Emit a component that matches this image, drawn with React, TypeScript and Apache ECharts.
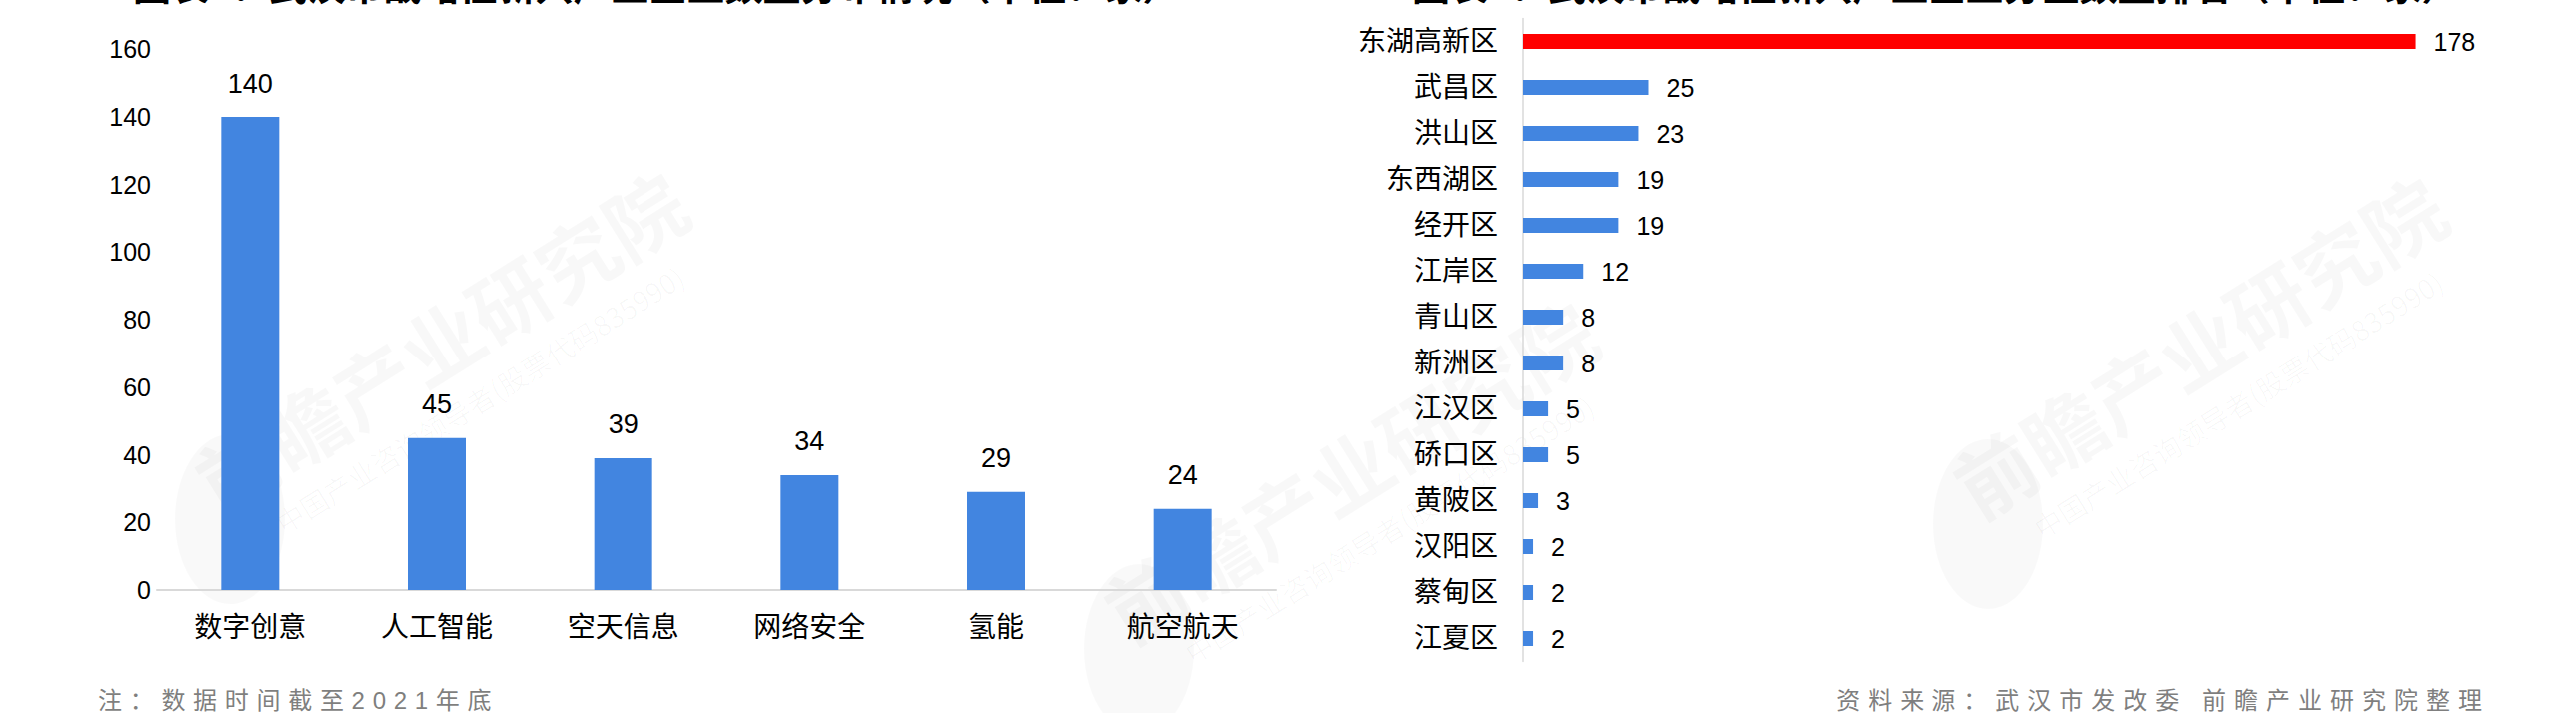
import React, { useEffect, useRef } from "react";
import * as echarts from "echarts";

const industries = ["数字创意", "人工智能", "空天信息", "网络安全", "氢能", "航空航天"];
const industryValues = [140, 45, 39, 34, 29, 24];

const districts = ["东湖高新区", "武昌区", "洪山区", "东西湖区", "经开区", "江岸区", "青山区", "新洲区", "江汉区", "硚口区", "黄陂区", "汉阳区", "蔡甸区", "江夏区"];
const districtValues = [178, 25, 23, 19, 19, 12, 8, 8, 5, 5, 3, 2, 2, 2];

const leftTitle = "图表1：武汉市战略性新兴产业企业数量分布情况（单位：家）";
const rightTitle = "图表2：武汉市战略性新兴产业企业分区数量排名（单位：家）";
const noteText = "注：数据时间截至2021年底";
const sourceText = "资料来源：武汉市发改委 前瞻产业研究院整理";

const FONT = "'Liberation Sans Narrow','Arial Narrow','Liberation Sans','Noto Sans CJK SC',sans-serif";
const BLUE = "#4285E0";
const RED = "#FF0000";

export default function App() {
  const ref = useRef<HTMLDivElement>(null);
  useEffect(() => {
    const chart = echarts.init(ref.current!, null, { renderer: "svg" });
    const wm = (x: number, y: number) => [
      {
        type: "text",
        x,
        y,
        rotation: (32 * Math.PI) / 180,
        silent: true,
        style: {
          text: "前瞻产业研究院",
          font: "bold 80px 'Noto Sans CJK SC'",
          fill: "rgba(0,0,0,0.028)",
          align: "center",
          verticalAlign: "middle",
        },
      },
      {
        type: "text",
        x: x + 40,
        y: y + 60,
        rotation: (32 * Math.PI) / 180,
        silent: true,
        style: {
          text: "中国产业咨询领导者(股票代码835990)",
          font: "28px 'Noto Sans CJK SC'",
          fill: "rgba(0,0,0,0.028)",
          align: "center",
          verticalAlign: "middle",
        },
      },
      {
        type: "ellipse",
        silent: true,
        shape: { cx: x - 210, cy: y + 180, rx: 55, ry: 85 },
        style: { fill: "rgba(0,0,0,0.022)" },
      },
    ];
    const option: any = {
      animation: false,
      backgroundColor: "#ffffff",
      textStyle: { fontFamily: FONT },
      graphic: [
        ...wm(440, 340),
        ...wm(1350, 470),
        ...wm(2200, 345),
        {
          type: "text",
          x: 133,
          y: -17,
          style: { text: leftTitle, font: "bold 38px 'Noto Sans CJK SC'", fill: "#000", verticalAlign: "middle" },
        },
        {
          type: "text",
          x: 1413,
          y: -17,
          style: { text: rightTitle, font: "bold 38px 'Noto Sans CJK SC'", fill: "#000", verticalAlign: "middle" },
        },
        {
          type: "text",
          x: 98,
          y: 701,
          style: { text: noteText, font: "24px " + FONT, fill: "#7f7f7e", verticalAlign: "middle" },
        },
        {
          type: "text",
          x: 2492,
          y: 701,
          style: { text: sourceText, font: "24px " + FONT, fill: "#7f7f7f", align: "right", verticalAlign: "middle" },
        },
      ],
      grid: [
        { left: 157, top: 49.3, width: 1120, height: 541.7 },
        { left: 1524, top: 18.5, width: 1004, height: 644 },
      ],
      xAxis: [
        {
          type: "category",
          gridIndex: 0,
          data: industries,
          axisLine: { lineStyle: { color: "#d9d9d9", width: 2 } },
          axisTick: { show: false },
          axisLabel: { fontSize: 28, color: "#000", margin: 23, fontFamily: FONT },
        },
        {
          type: "value",
          gridIndex: 1,
          min: 0,
          max: 200,
          show: false,
        },
      ],
      yAxis: [
        {
          type: "value",
          gridIndex: 0,
          min: 0,
          max: 160,
          interval: 20,
          axisLine: { show: false },
          axisTick: { show: false },
          splitLine: { show: false },
          axisLabel: { fontSize: 25, color: "#000", margin: 6, fontFamily: FONT },
        },
        {
          type: "category",
          gridIndex: 1,
          data: districts,
          inverse: true,
          axisLine: { lineStyle: { color: "#d9d9d9", width: 1.5 } },
          axisTick: { show: false },
          axisLabel: { fontSize: 28, color: "#000", margin: 25, fontFamily: FONT },
        },
      ],
      series: [
        {
          type: "bar",
          xAxisIndex: 0,
          yAxisIndex: 0,
          data: industryValues,
          barWidth: 58,
          itemStyle: { color: BLUE },
          label: { show: true, position: "top", distance: 20, fontSize: 27, color: "#000", fontFamily: FONT },
        },
        {
          type: "bar",
          xAxisIndex: 1,
          yAxisIndex: 1,
          data: districtValues.map((v, i) => ({ value: v, itemStyle: { color: i === 0 ? RED : BLUE } })),
          barWidth: 15,
          label: { show: true, position: "right", distance: 18, fontSize: 25, color: "#000", fontFamily: FONT },
        },
      ],
    };
    chart.setOption(option);
    return () => chart.dispose();
  }, []);
  return (
    <>
      <style>{`
        text[fill="#7f7f7e"], text[fill="rgb(127,127,126)"] { letter-spacing: 7.7px; }
        text[fill="#7f7f7f"], text[fill="rgb(127,127,127)"] { letter-spacing: 8px; }
      `}</style>
      <div
        ref={ref}
        style={{ position: "fixed", left: 0, top: 0, width: 2578, height: 714, background: "#fff" }}
      />
    </>
  );
}
